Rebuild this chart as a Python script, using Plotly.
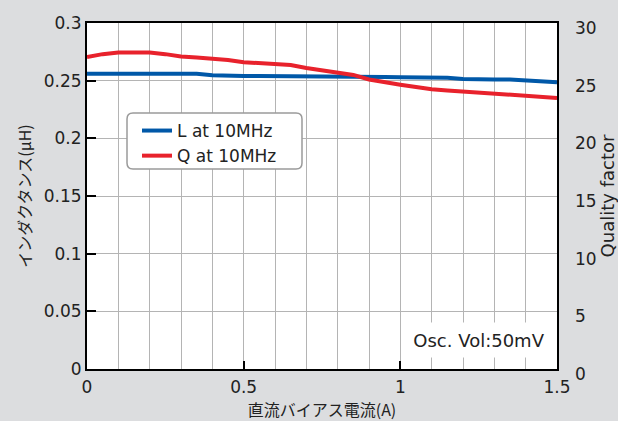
import plotly.graph_objects as go

current = [0, 0.05, 0.1, 0.15, 0.2, 0.25, 0.3, 0.35, 0.4, 0.45, 0.5, 0.55, 0.6, 0.65,
           0.7, 0.75, 0.8, 0.85, 0.9, 0.95, 1.0, 1.05, 1.1, 1.15, 1.2, 1.25, 1.3, 1.35,
           1.4, 1.45, 1.5]
inductance = [0.256, 0.256, 0.256, 0.256, 0.256, 0.256, 0.256, 0.256, 0.2548, 0.2542,
              0.254, 0.254, 0.254, 0.254, 0.254, 0.254, 0.254, 0.2538, 0.2535, 0.2532,
              0.253, 0.253, 0.253, 0.2525, 0.2515, 0.251, 0.251, 0.251, 0.2505, 0.2495,
              0.2487]
quality = [27.05, 27.3, 27.45, 27.45, 27.45, 27.3, 27.1, 27.0, 26.9, 26.8, 26.6, 26.5,
           26.45, 26.35, 26.1, 25.9, 25.7, 25.5, 25.1, 24.85, 24.65, 24.45, 24.25, 24.15,
           24.05, 23.95, 23.85, 23.75, 23.65, 23.55, 23.5]

name_l = "L at 10MHz"
name_q = "Q at 10MHz"
note = "Osc. Vol:50mV"
x_title = "直流バイアス電流(A)"
y_title = "インダクタンス(μH)"
y2_title = "Quality factor"

BLUE = "#0058a8"
RED = "#e8222c"
GRID = "#b4b4b4"
TXT = "#222222"
BASE = "DejaVu Sans"
JP = "Noto Sans CJK JP"

fig = go.Figure()
fig.add_trace(go.Scatter(x=current, y=inductance, name=name_l, mode="lines",
                         line=dict(color=BLUE, width=4), yaxis="y"))
fig.add_trace(go.Scatter(x=current, y=quality, name=name_q, mode="lines",
                         line=dict(color=RED, width=4), yaxis="y2"))

W, H = 618, 421
L, R, T, B = 87, 61, 23, 52
pw, ph = W - L - R, H - T - B


def px(xp):
    return (xp - L) / pw


def py(yp):
    return (H - B - yp) / ph


# rounded legend box
x0, x1, y0, y1 = px(127), px(302), py(113), py(169)
rx, ry = 6 / pw, 6 / ph
path = (f"M {x0+rx},{y0} L {x1-rx},{y0} Q {x1},{y0} {x1},{y0-ry} "
        f"L {x1},{y1+ry} Q {x1},{y1} {x1-rx},{y1} L {x0+rx},{y1} "
        f"Q {x0},{y1} {x0},{y1+ry} L {x0},{y0-ry} Q {x0},{y0} {x0+rx},{y0} Z")

fig.update_layout(
    width=W, height=H,
    margin=dict(l=L, r=R, t=T, b=B, autoexpand=False),
    paper_bgcolor="#dcdddf",
    plot_bgcolor="white",
    font=dict(family=BASE, size=17, color=TXT),
    showlegend=True,
    legend=dict(x=px(137), y=py(113), xanchor="left", yanchor="top",
                bgcolor="rgba(0,0,0,0)", borderwidth=0,
                font=dict(family=BASE, size=17, color=TXT),
                tracegroupgap=0),
    shapes=[dict(type="path", path=path, xref="paper", yref="paper",
                 fillcolor="white", line=dict(color="#9a9a9a", width=1.5),
                 layer="above")],
    annotations=[dict(text=note, xref="paper", yref="paper",
                      x=px(479), y=py(340), xanchor="center", yanchor="middle",
                      showarrow=False, bgcolor="white", width=150, height=32,
                      font=dict(family=BASE, size=18, color=TXT))],
    xaxis=dict(range=[0, 1.5], dtick=0.5, tick0=0, automargin=True,
               showgrid=True, gridcolor=GRID, gridwidth=1,
               minor=dict(dtick=0.1, showgrid=True, gridcolor=GRID, gridwidth=1),
               showline=True, linecolor="black", linewidth=2, mirror=True,
               ticks="inside", ticklen=8, tickwidth=2, tickcolor="black",
               zeroline=False, ticklabelstandoff=2,
               tickfont=dict(family=BASE, size=17, color=TXT),
               title=dict(text=x_title, standoff=6,
                          font=dict(family=JP, size=16, color=TXT))),
    yaxis=dict(range=[0, 0.3], dtick=0.05, tick0=0, automargin=True,
               showgrid=True, gridcolor=GRID, gridwidth=1,
               showline=True, linecolor="black", linewidth=2, mirror=True,
               ticks="inside", ticklen=9, tickwidth=2, tickcolor="black",
               zeroline=False,
               tickfont=dict(family=BASE, size=17, color=TXT),
               title=dict(text=y_title, standoff=8,
                          font=dict(family=JP, size=16, color=TXT))),
    yaxis2=dict(range=[0, 30], dtick=5, tick0=0, overlaying="y", side="right",
                automargin=True,
                showgrid=False, zeroline=False, showline=False, ticks="",
                ticklabelstandoff=17, ticklabelshift=5,
                tickfont=dict(family=BASE, size=17, color=TXT),
                title=dict(text=y2_title, standoff=12,
                           font=dict(family=BASE, size=18, color=TXT))),
)

fig.write_html("out.html", config={"displayModeBar": False},
               post_script="document.body.style.margin='0';document.body.style.overflow='hidden';")
